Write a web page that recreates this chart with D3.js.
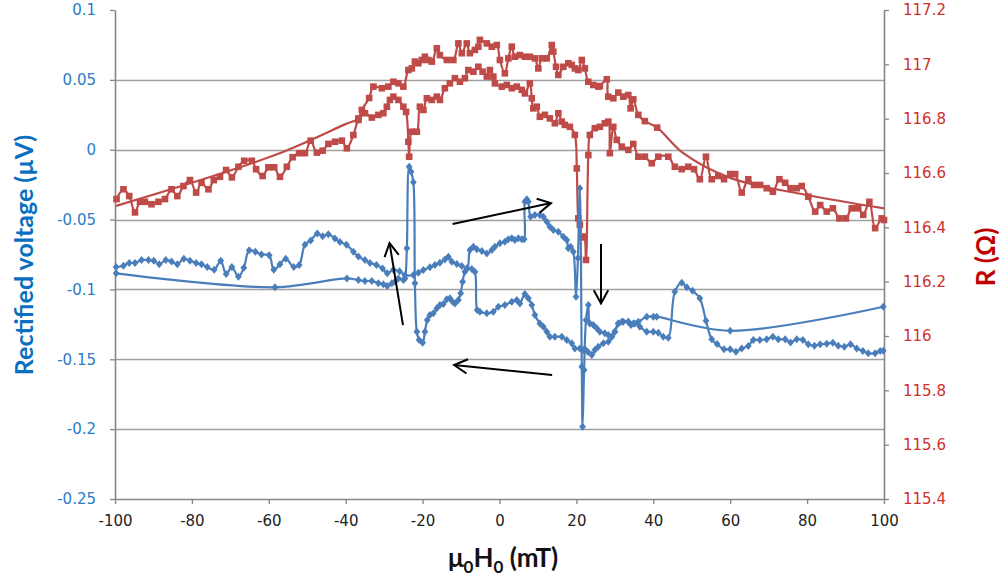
<!DOCTYPE html>
<html><head><meta charset="utf-8">
<script src="https://cdn.jsdelivr.net/npm/d3@7"></script>
<style>body{margin:0;background:#fff}svg{display:block}</style>
</head><body><svg id="c" width="1005" height="579"></svg>
<script>
// ---------- DATA ----------
const xTicks = [-100,-80,-60,-40,-20,0,20,40,60,80,100];
const leftTicks = [0.1,0.05,0,-0.05,-0.1,-0.15,-0.2,-0.25];
const leftTickLabels = ["0.1","0.05","0","-0.05","-0.1","-0.15","-0.2","-0.25"];
const rightTicks = [117.2,117,116.8,116.6,116.4,116.2,116,115.8,115.6,115.4];
const rightTickLabels = ["117.2","117","116.8","116.6","116.4","116.2","116","115.8","115.6","115.4"];

// Rectified voltage, sweep -100 -> +100 mT  [field, voltage]
const blueForward = [[-99.7,-0.084],[-97.8,-0.083],[-96.3,-0.081],[-94.8,-0.081],[-93.1,-0.079],[-91.3,-0.079],[-89.9,-0.0795],[-88.5,-0.082],[-86.8,-0.079],[-85.3,-0.080],[-83.8,-0.082],[-82.1,-0.078],[-80.5,-0.0795],[-78.9,-0.081],[-77.5,-0.082],[-76.0,-0.084],[-74.2,-0.086],[-72.5,-0.0795],[-71.1,-0.089],[-69.6,-0.084],[-67.9,-0.091],[-66.5,-0.0845],[-65.1,-0.072],[-63.5,-0.073],[-61.9,-0.075],[-59.9,-0.0755],[-58.7,-0.086],[-57.1,-0.082],[-55.6,-0.078],[-53.5,-0.084],[-52.1,-0.0825],[-50.6,-0.068],[-49.1,-0.065],[-47.4,-0.060],[-46.0,-0.062],[-44.5,-0.0605],[-42.8,-0.0635],[-41.5,-0.066],[-39.8,-0.068],[-38.0,-0.073],[-36.7,-0.0765],[-35.0,-0.079],[-33.7,-0.081],[-32.0,-0.0825],[-30.4,-0.085],[-29.2,-0.0885],[-27.6,-0.086],[-26.0,-0.087],[-24.6,-0.0897],[-22.4,-0.0897],[-21.1,-0.088],[-19.8,-0.0861],[-18.1,-0.0842],[-16.8,-0.0825],[-15.5,-0.0809],[-14.2,-0.0785],[-13.3,-0.0766],[-12.4,-0.0802],[-11.1,-0.0818],[-9.8,-0.0833],[-8.4,-0.0849],[-7.7,-0.0718],[-6.8,-0.0694],[-5.9,-0.0713],[-4.6,-0.0725],[-3.3,-0.0742],[-2.0,-0.0718],[-1.2,-0.0694],[0.1,-0.067],[1.4,-0.0659],[2.3,-0.0641],[3.2,-0.0634],[4.0,-0.0646],[4.9,-0.0634],[5.8,-0.0641],[6.4,-0.0641],[6.6,-0.0372],[7.1,-0.0355],[7.5,-0.0372],[8.1,-0.048],[9.2,-0.0467],[10.5,-0.0467],[11.4,-0.048],[12.3,-0.0515],[13.1,-0.0551],[14.0,-0.0575],[15.3,-0.0587],[16.6,-0.0623],[17.5,-0.0646],[17.9,-0.0706],[18.5,-0.0694],[19.2,-0.073],[19.9,-0.1052],[20.4,-0.0775],[20.9,-0.0276],[21.4,-0.1553],[21.6,-0.1983],[22.0,-0.1577],[22.5,-0.1219],[23.1,-0.1112],[23.5,-0.1243],[24.4,-0.1255],[25.3,-0.1278],[26.1,-0.1303],[27.4,-0.1314],[28.3,-0.1326],[29.2,-0.1339],[30.0,-0.1303],[30.9,-0.1243],[31.8,-0.1231],[33.5,-0.1231],[34.2,-0.1255],[35.2,-0.1243],[36.5,-0.1267],[38.3,-0.1303],[40.0,-0.1303],[41.3,-0.131],[42.6,-0.1339],[43.9,-0.1346],[45.6,-0.1016],[47.4,-0.0952],[48.7,-0.0985],[50.2,-0.1009],[52.1,-0.1064],[53.7,-0.1224],[55.2,-0.1357],[56.6,-0.1391],[58.4,-0.1429],[60.0,-0.1429],[61.5,-0.1446],[63.0,-0.1422],[64.7,-0.1405],[66.0,-0.1362],[67.7,-0.1362],[69.5,-0.1357],[71.1,-0.1339],[72.5,-0.1357],[74.3,-0.1357],[75.7,-0.1379],[77.3,-0.1357],[78.9,-0.1362],[80.3,-0.1393],[81.9,-0.1403],[83.4,-0.1393],[85.1,-0.1389],[86.7,-0.1382],[88.1,-0.1403],[89.7,-0.141],[91.3,-0.1393],[92.9,-0.1422],[94.5,-0.1441],[95.9,-0.1457],[97.7,-0.1457],[99.0,-0.1441],[99.8,-0.1439]];

// Rectified voltage, sweep +100 -> -100 mT
const blueReturn = [[99.8,-0.1124],[60.0,-0.1296],[40.9,-0.1195],[40.0,-0.1195],[38.3,-0.1195],[36.1,-0.1231],[34.8,-0.1243],[33.5,-0.1231],[32.2,-0.1231],[30.9,-0.1243],[30.0,-0.1303],[29.2,-0.1339],[28.3,-0.1374],[27.0,-0.1386],[25.7,-0.141],[24.8,-0.1434],[24.0,-0.147],[23.0,-0.1448],[22.2,-0.1427],[21.8,-0.1434],[20.9,-0.1422],[19.6,-0.1422],[18.8,-0.1386],[17.5,-0.1362],[16.2,-0.1339],[14.4,-0.1339],[13.1,-0.1339],[12.3,-0.1303],[11.4,-0.1267],[10.5,-0.1243],[9.2,-0.1183],[8.4,-0.1112],[7.5,-0.1064],[6.6,-0.1033],[5.3,-0.11],[4.5,-0.1076],[3.2,-0.1088],[1.4,-0.1112],[-0.3,-0.1124],[-1.6,-0.116],[-3.3,-0.1171],[-5.1,-0.116],[-5.8,-0.1147],[-6.4,-0.0873],[-7.2,-0.0854],[-8.4,-0.0849],[-9.0,-0.0873],[-9.6,-0.0945],[-10.1,-0.1028],[-10.7,-0.1076],[-11.6,-0.11],[-12.2,-0.1088],[-12.9,-0.1064],[-13.7,-0.1071],[-14.6,-0.1105],[-15.5,-0.1112],[-16.3,-0.1135],[-17.2,-0.1171],[-18.1,-0.1183],[-18.8,-0.1219],[-19.4,-0.1303],[-20.0,-0.1381],[-20.9,-0.1362],[-21.5,-0.1303],[-22.0,-0.0956],[-22.4,-0.0233],[-23.0,-0.0157],[-23.5,-0.0122],[-24.1,-0.0706],[-24.6,-0.0921],[-25.0,-0.0933],[-26.3,-0.0921],[-27.2,-0.0945],[-28.0,-0.0956],[-29.2,-0.0976],[-30.2,-0.0963],[-31.5,-0.0956],[-33.2,-0.094],[-35.0,-0.094],[-36.7,-0.0933],[-39.7,-0.0921],[-58.4,-0.0985],[-99.7,-0.0885]];

// Resistance, sweep -100 -> +100 mT  [field, R]
const redForward = [[-99.6,116.504],[-97.8,116.540],[-96.3,116.515],[-94.8,116.455],[-93.5,116.494],[-92.2,116.494],[-90.5,116.485],[-88.7,116.494],[-87.0,116.504],[-85.3,116.540],[-83.8,116.515],[-82.2,116.552],[-80.5,116.574],[-78.9,116.528],[-77.5,116.564],[-75.7,116.540],[-74.3,116.574],[-72.7,116.586],[-71.1,116.611],[-69.6,116.584],[-67.9,116.623],[-66.4,116.645],[-64.4,116.645],[-63.3,116.614],[-61.6,116.589],[-60.1,116.621],[-58.6,116.621],[-57.1,116.586],[-55.3,116.623],[-53.8,116.658],[-52.1,116.673],[-50.6,116.673],[-49.1,116.719],[-47.5,116.675],[-46.0,116.682],[-44.5,116.707],[-42.8,116.715],[-41.0,116.719],[-39.7,116.691],[-38.0,116.740],[-36.7,116.795],[-35.0,116.820],[-33.2,116.804],[-31.5,116.814],[-30.2,116.820],[-29.3,116.844],[-28.5,116.869],[-27.6,116.881],[-26.3,116.869],[-25.0,116.844],[-24.3,116.825],[-23.7,116.715],[-23.5,116.660],[-22.8,116.752],[-21.5,116.752],[-20.7,116.844],[-19.8,116.832],[-18.9,116.875],[-17.6,116.869],[-16.3,116.881],[-15.5,116.869],[-14.2,116.912],[-12.9,116.930],[-11.6,116.949],[-10.3,116.936],[-9.0,116.949],[-8.1,116.979],[-6.8,116.973],[-5.5,116.991],[-4.4,116.973],[-3.3,116.955],[-2.5,116.979],[-1.6,116.955],[-1.2,116.930],[0.6,116.918],[1.9,116.924],[3.2,116.912],[4.5,116.918],[5.8,116.906],[6.6,116.893],[7.9,116.930],[8.4,116.875],[8.8,116.838],[9.7,116.844],[10.5,116.807],[11.8,116.814],[13.1,116.801],[14.4,116.783],[15.3,116.820],[16.2,116.789],[17.0,116.777],[18.3,116.770],[19.6,116.740],[20.1,116.617],[20.5,116.433],[20.9,116.409],[21.4,116.363],[22.0,116.366],[22.5,116.280],[23.1,116.666],[23.5,116.740],[24.8,116.765],[26.1,116.770],[27.4,116.783],[28.3,116.789],[28.7,116.673],[29.6,116.770],[30.5,116.722],[31.8,116.697],[33.5,116.685],[34.8,116.707],[36.1,116.660],[37.8,116.660],[39.6,116.636],[41.3,116.660],[43.9,116.660],[45.6,116.623],[47.4,116.614],[49.1,116.623],[50.6,116.614],[52.1,116.577],[53.7,116.660],[55.2,116.577],[56.9,116.589],[58.4,116.577],[60.0,116.596],[61.3,116.596],[63.0,116.528],[64.7,116.577],[66.2,116.556],[67.8,116.556],[69.5,116.544],[71.1,116.531],[72.8,116.577],[74.3,116.564],[75.7,116.544],[77.3,116.544],[78.6,116.552],[80.3,116.513],[82.1,116.458],[83.4,116.482],[85.1,116.458],[86.7,116.470],[88.4,116.433],[90.1,116.433],[91.6,116.470],[93.3,116.470],[94.6,116.446],[96.2,116.494],[97.7,116.397],[99.4,116.433],[100,116.427]];

// Resistance, sweep +100 -> -100 mT : sparse high-field part, dense part, sparse low-field part
const redReturnHighField = [[100,116.470],[79.9,116.519],[60.0,116.582],[47.8,116.673]];
const redReturn = [[41.0,116.767],[37.8,116.791],[36.1,116.814],[34.8,116.871],[34.1,116.838],[33.5,116.887],[32.2,116.881],[30.9,116.896],[29.6,116.875],[28.3,116.881],[27.9,116.945],[26.1,116.920],[25.7,116.918],[24.4,116.924],[23.1,116.936],[22.2,116.985],[21.4,117.016],[20.5,116.979],[19.6,116.985],[18.8,116.998],[17.9,117.004],[16.6,116.991],[15.3,116.961],[14.7,116.991],[14.0,117.047],[13.6,117.071],[12.3,117.022],[11.0,117.022],[10.1,116.985],[9.2,117.022],[7.9,117.028],[6.6,117.028],[5.3,117.034],[4.0,117.028],[3.2,117.065],[2.3,117.022],[1.4,116.967],[0.1,117.016],[-0.7,117.071],[-2.0,117.065],[-3.3,117.077],[-5.1,117.090],[-5.5,117.065],[-6.4,117.053],[-7.7,117.041],[-8.5,117.077],[-9.8,117.041],[-10.7,117.077],[-12.0,117.016],[-13.7,117.016],[-15.5,117.034],[-16.3,117.059],[-17.6,117.010],[-18.5,117.016],[-19.4,117.028],[-20.2,117.016],[-21.1,117.004],[-22.0,117.010],[-22.8,116.985],[-23.7,116.979],[-25.0,116.918],[-26.3,116.930],[-27.6,116.936],[-28.9,116.918],[-30.6,116.912],[-32.8,116.918],[-33.9,116.876],[-35.8,116.832],[-36.7,116.801]];
const redReturnLowField = [[-40.2,116.779],[-58.4,116.666],[-99.7,116.479]];

// Sweep-direction arrows (field, voltage): [from, to]
const arrows = [
  [[-25.1,-0.1255],[-28.6,-0.0668]],
  [[-12.2,-0.0532],[13.4,-0.0382]],
  [[26.4,-0.0675],[26.4,-0.110]],
  [[13.7,-0.1613],[-11.8,-0.1541]]
];

// ---------- CHART ----------
const svg = d3.select("#c");
svg.append("rect").attr("width",1005).attr("height",579).attr("fill","#fff");
const x = d3.scaleLinear().domain([-100,100]).range([115,884]);
const yL = d3.scaleLinear().domain([-0.25,0.1]).range([499,10]);
const yR = d3.scaleLinear().domain([115.4,117.2]).range([499,10]);

const BLUE="#4a7ebb", RED="#be4b48", AX="#868686";

// gridlines
svg.append("g").selectAll("line").data(leftTicks.filter(v=>v>-0.25 && v<0.1)).join("line")
  .attr("x1",115).attr("x2",884)
  .attr("y1",d=>Math.round(yL(d))+0.5).attr("y2",d=>Math.round(yL(d))+0.5)
  .attr("stroke","#a0a0a0").attr("stroke-width",1.3);

// axes
const tickFont = "15px 'DejaVu Sans', Verdana, sans-serif";
const gL = svg.append("g").attr("transform","translate(115,0)")
  .call(d3.axisLeft(yL).tickValues(leftTicks).tickFormat((d,i)=>leftTickLabels[i]).tickSize(5).tickSizeOuter(0).tickPadding(14));
const gR = svg.append("g").attr("transform","translate(884,0)")
  .call(d3.axisRight(yR).tickValues(rightTicks).tickFormat((d,i)=>rightTickLabels[i]).tickSize(5).tickSizeOuter(0).tickPadding(14));
const gX = svg.append("g").attr("transform","translate(0,499)")
  .call(d3.axisBottom(x).tickValues(xTicks).tickFormat(d=>String(d)).tickSize(5).tickSizeOuter(0).tickPadding(11));
[gL,gR,gX].forEach(g=>{
  g.select(".domain").attr("stroke",AX).attr("stroke-width",1.6);
  g.selectAll(".tick line").attr("stroke",AX).attr("stroke-width",1.3);
  g.selectAll(".tick text").style("font",tickFont);
});
gL.selectAll(".tick text").attr("fill","#2a7cc6");
gR.selectAll(".tick text").attr("fill","#d0302e");
gX.selectAll(".tick text").attr("fill","#222");

// series
const curve = d3.curveCatmullRom.alpha(0.5);
const lineL = d3.line().x(d=>x(d[0])).y(d=>yL(d[1])).curve(curve);
const lineR = d3.line().x(d=>x(d[0])).y(d=>yR(d[1])).curve(curve);

const redReturnAll = redReturnHighField.concat(redReturn, redReturnLowField);
[redForward, redReturnAll].forEach(s=>{
  svg.append("path").attr("d",lineR(s)).attr("fill","none").attr("stroke",RED).attr("stroke-width",2.2);
});
svg.append("g").selectAll("rect").data(redForward.concat(redReturn)).join("rect")
  .attr("x",d=>x(d[0])-3.3).attr("y",d=>yR(d[1])-3.3).attr("width",6.6).attr("height",6.6).attr("fill",RED);

[blueForward, blueReturn].forEach(s=>{
  svg.append("path").attr("d",lineL(s)).attr("fill","none").attr("stroke",BLUE).attr("stroke-width",2.2);
});
svg.append("g").selectAll("path").data(blueForward.concat(blueReturn)).join("path")
  .attr("transform",d=>`translate(${x(d[0])},${yL(d[1])})`)
  .attr("d","M0,-4L3.4,0L0,4L-3.4,0Z").attr("fill",BLUE);

// arrows
const ga = svg.append("g").attr("stroke","#000").attr("stroke-width",2).attr("fill","none");
arrows.forEach(([a,b])=>{
  const x1=x(a[0]),y1=yL(a[1]),x2=x(b[0]),y2=yL(b[1]);
  ga.append("line").attr("x1",x1).attr("y1",y1).attr("x2",x2).attr("y2",y2);
  const ang=Math.atan2(y2-y1,x2-x1), L=15, W=0.5;
  const p1=[x2-L*Math.cos(ang-W), y2-L*Math.sin(ang-W)];
  const p2=[x2-L*Math.cos(ang+W), y2-L*Math.sin(ang+W)];
  ga.append("path").attr("d",`M${p1[0]},${p1[1]}L${x2},${y2}L${p2[0]},${p2[1]}`);
});

// titles
const titleFont = "bold 25px Lato, 'Open Sans', sans-serif";
svg.append("text").attr("transform","translate(33,255) rotate(-90)").attr("text-anchor","middle")
  .style("font",titleFont).attr("fill","#0a6fc0").text("Rectified voltage (µV)");
svg.append("text").attr("transform","translate(995,257) rotate(-90)").attr("text-anchor","middle")
  .style("font","bold 26px Lato, 'Open Sans', sans-serif").attr("fill","#c00000").text("R (Ω)");
const xt = svg.append("text").attr("x",503).attr("y",567).attr("text-anchor","middle")
  .style("font","bold 26px Lato, 'Open Sans', sans-serif").attr("fill","#111");
xt.append("tspan").text("μ");
xt.append("tspan").attr("dy",6).style("font-size","17px").text("0");
xt.append("tspan").attr("dy",-6).text("H");
xt.append("tspan").attr("dy",6).style("font-size","17px").text("0");
xt.append("tspan").attr("dy",-6).text(" (mT)");
</script></body></html>
